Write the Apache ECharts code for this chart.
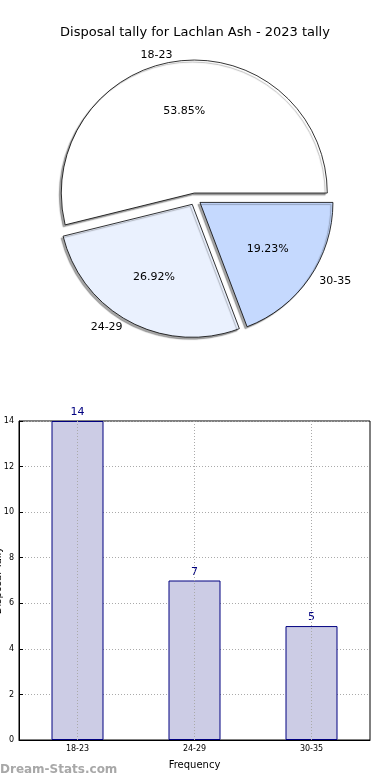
<!DOCTYPE html>
<html>
<head>
<meta charset="utf-8">
<script src="https://cdn.jsdelivr.net/npm/echarts@6/dist/echarts.min.js"></script>
<style>html,body{margin:0;padding:0;background:#fff}#c{width:390px;height:780px}</style>
</head>
<body>
<div id="c"></div>
<script>
var categories = ['18-23', '24-29', '30-35'];
var tallies = [14, 7, 5];
var pieColors = ['#ffffff', '#eaf1fe', '#c5d9fe'];
var yTicks = [0, 2, 4, 6, 8, 10, 12, 14];
var titleText = 'Disposal tally for Lachlan Ash - 2023 tally';

var FONT = 'DejaVu Sans';
var chart = echarts.init(document.getElementById('c'), null, {renderer: 'canvas'});

var pieData = categories.map(function (c, i) {
  return {name: c, value: tallies[i], selected: true, itemStyle: {color: pieColors[i]}};
});
var pieLabelData = categories.map(function (c, i) {
  return {name: c, value: tallies[i], selected: true};
});

var option = {
  animation: false,
  backgroundColor: '#ffffff',
  title: {
    text: titleText, left: 'center', top: 21,
    textStyle: {fontFamily: FONT, fontSize: 13, fontWeight: 'normal', color: '#000'}
  },
  grid: {left: 19, right: 20, top: 421, bottom: 40, show: true, borderColor: '#000', borderWidth: 1,
         containLabel: false, outerBoundsMode: 'none'},
  xAxis: {
    type: 'category', data: categories,
    axisLine: {lineStyle: {color: '#000'}},
    axisTick: {alignWithLabel: true, inside: true, length: 4, lineStyle: {color: '#000'}},
    axisLabel: {fontFamily: FONT, fontSize: 8, color: '#000', margin: 5},
    name: 'Frequency', nameLocation: 'middle', nameGap: 20,
    nameTextStyle: {fontFamily: FONT, fontSize: 10, color: '#000'}
  },
  yAxis: {
    type: 'value', min: yTicks[0], max: yTicks[yTicks.length - 1], interval: 2,
    axisLine: {show: true, lineStyle: {color: '#000'}},
    axisTick: {show: true, inside: true, length: 4, lineStyle: {color: '#000'}},
    axisLabel: {fontFamily: FONT, fontSize: 8, color: '#000', margin: 5},
    splitLine: {show: true, lineStyle: {color: '#aaaaaa', type: [1, 2], width: 1}},
    name: 'Disposal Tally', nameLocation: 'middle', nameGap: 16, nameRotate: 90,
    nameMoveOverlap: false,
    nameTextStyle: {fontFamily: FONT, fontSize: 10, color: '#000'}
  },
  graphic: [{
    type: 'text', left: 0, top: 764,
    style: {text: 'Dream-Stats.com', fill: '#a8a8a8', font: 'bold 12px "DejaVu Sans"'}
  }],
  series: [
    {
      type: 'pie', center: [195, 199], radius: [0, 133],
      clockwise: false, startAngle: 0,
      selectedMode: 'multiple', selectedOffset: 6,
      data: pieData,
      itemStyle: {borderColor: '#000', borderWidth: 0.8, shadowColor: 'rgba(0,0,0,0.35)', shadowBlur: 1, shadowOffsetX: -2, shadowOffsetY: 2},
      label: {show: true, position: 'outside', formatter: '{b}', fontFamily: FONT, fontSize: 11, color: '#000'},
      labelLine: {show: false, length: 6, length2: 0},
      emphasis: {disabled: true}, silent: true
    },
    {
      type: 'pie', center: [195, 199], radius: [52, 107],
      clockwise: false, startAngle: 0,
      selectedMode: 'multiple', selectedOffset: 6,
      data: pieLabelData,
      itemStyle: {color: 'rgba(0,0,0,0)', borderWidth: 0},
      label: {show: true, position: 'inside', formatter: '{d}%', fontFamily: FONT, fontSize: 11, color: '#000'},
      labelLine: {show: false},
      emphasis: {disabled: true}, silent: true, z: 5
    },
    {
      type: 'bar', data: tallies, barWidth: 52,
      itemStyle: {color: '#ccccE5', borderColor: '#000080', borderWidth: 1},
      label: {show: true, position: 'top', distance: 3, fontFamily: FONT, fontSize: 11, color: '#000080'},
      markLine: {
        silent: true, symbol: 'none', label: {show: false},
        lineStyle: {color: '#aaaaaa', type: [1, 2], width: 1},
        data: categories.map(function (c) { return {xAxis: c}; })
      }
    }
  ]
};
chart.setOption(option);
</script>
</body>
</html>
